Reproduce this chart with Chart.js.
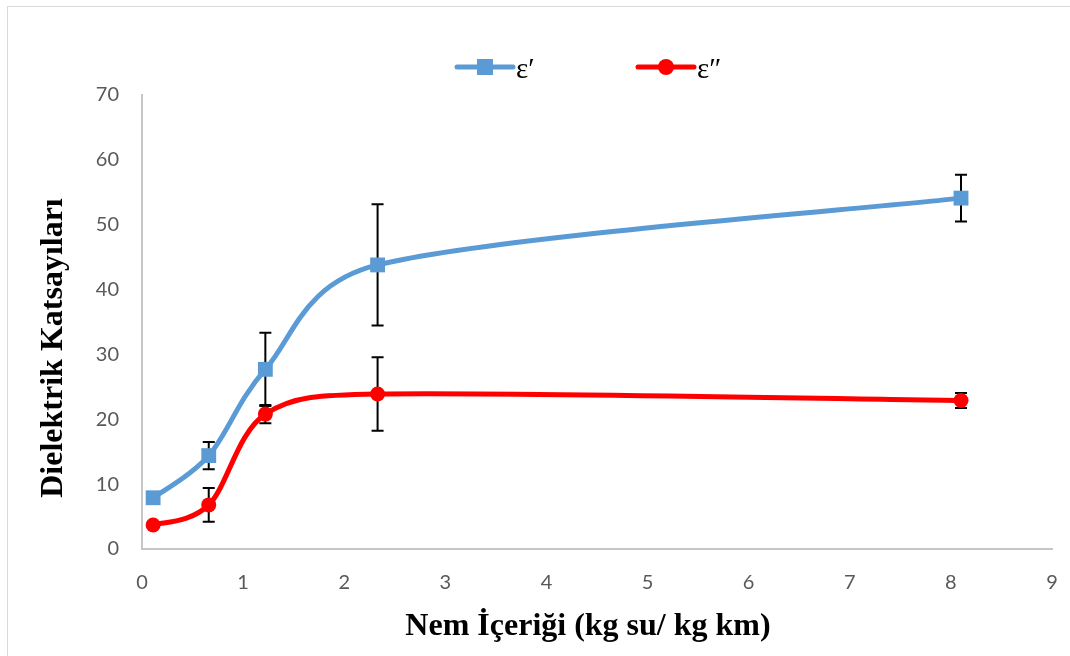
<!DOCTYPE html>
<html>
<head>
<meta charset="utf-8">
<script src="https://cdn.jsdelivr.net/npm/chart.js@4.4.1/dist/chart.umd.min.js"></script>
<style>
  body { margin: 0; background: #fff; overflow: hidden; }
  #frame { position: absolute; left: 7px; top: 6px; width: 1100px; height: 700px; border: 1px solid #d9d9d9; }
  #bars { position: absolute; left: 0; top: 0; }
</style>
</head>
<body>
<div id="frame"></div>
<canvas id="bars" width="1070" height="656"></canvas>
<script>
// nem icerigi (kg su / kg km)
var nem = [0.11, 0.66, 1.22, 2.33, 8.1];
// dielektrik sabiti e' ve kayip faktoru e''
var epsReal = [7.9, 14.4, 27.7, 43.8, 54.1];
var epsReal_err = [0, 2.1, 5.65, 9.35, 3.6];
var epsImag = [3.7, 6.8, 20.8, 23.9, 22.9];
var epsImag_err = [0, 2.6, 1.4, 5.65, 1.15];
var yTicks = [0, 10, 20, 30, 40, 50, 60, 70];
var xTicks = [0, 1, 2, 3, 4, 5, 6, 7, 8, 9];

function pts(xs, ys) {
  return xs.map((x, i) => ({ x: x, y: ys[i] }))
}

function dist(a, b) {
  return Math.hypot(b.x - a.x, b.y - a.y)
}

// excel style smoothing: arms are 1/6 of the neighbour chord, capped at half the segment
const excelSmooth = {
  id: 'excelSmooth',
  afterDatasetsUpdate(chart) {
    chart.data.datasets.forEach((ds, di) => {
      const meta = chart.getDatasetMeta(di)
      const p = meta.data
      const n = p.length
      for (let i = 0; i < n - 1; i++) {
        const p0 = p[Math.max(i - 1, 0)], p1 = p[i], p2 = p[i + 1], p3 = p[Math.min(i + 2, n - 1)]
        const d12 = dist(p1, p2), d02 = dist(p0, p2), d13 = dist(p1, p3)
        const a1 = Math.min(d02 / 6, d12 / 2), a2 = Math.min(d13 / 6, d12 / 2)
        p1.cp2x = p1.x + (p2.x - p0.x) / d02 * a1
        p1.cp2y = p1.y + (p2.y - p0.y) / d02 * a1
        p2.cp1x = p2.x - (p3.x - p1.x) / d13 * a2
        p2.cp1y = p2.y - (p3.y - p1.y) / d13 * a2
      }
      p[0].cp1x = p[0].x; p[0].cp1y = p[0].y
      p[n - 1].cp2x = p[n - 1].x; p[n - 1].cp2y = p[n - 1].y
      meta.dataset._pointsUpdated = true
    })
  }
}

// error bars, drawn under the lines like excel does
const errorBars = {
  id: 'errorBars',
  beforeDatasetsDraw(chart) {
    const ctx = chart.ctx
    const xs = chart.scales.x, ys = chart.scales.y
    ctx.save()
    ctx.strokeStyle = '#000'
    ctx.lineWidth = 2
    chart.data.datasets.forEach((ds) => {
      ds.data.forEach((p, i) => {
        const e = ds.err[i]
        if (!e) return
        const px = xs.getPixelForValue(p.x)
        const top = ys.getPixelForValue(p.y + e)
        const bot = ys.getPixelForValue(p.y - e)
        ctx.beginPath()
        ctx.moveTo(px, top); ctx.lineTo(px, bot)
        ctx.moveTo(px - 6, top); ctx.lineTo(px + 6, top)
        ctx.moveTo(px - 6, bot); ctx.lineTo(px + 6, bot)
        ctx.stroke()
      })
    })
    ctx.restore()
  }
}

// legend + axis titles
const extras = {
  id: 'extras',
  afterDraw(chart) {
    const ctx = chart.ctx
    const legendX = [457, 638]
    ctx.save()
    chart.data.datasets.forEach((ds, i) => {
      const x0 = legendX[i], y0 = 67
      ctx.strokeStyle = ds.borderColor
      ctx.lineWidth = 5
      ctx.lineCap = 'round'
      ctx.beginPath(); ctx.moveTo(x0, y0); ctx.lineTo(x0 + 56, y0); ctx.stroke()
      ctx.fillStyle = ds.borderColor
      if (ds.pointStyle === 'rect') {
        ctx.fillRect(x0 + 28 - 8, y0 - 8, 16, 16)
      } else {
        ctx.beginPath(); ctx.arc(x0 + 28, y0, 8, 0, Math.PI * 2); ctx.fill()
      }
      ctx.fillStyle = '#000'
      ctx.font = '29px "Liberation Serif"'
      ctx.textBaseline = 'middle'
      ctx.textAlign = 'left'
      ctx.fillText(ds.label, x0 + 59, y0 + 3)
    })
    ctx.fillStyle = '#000'
    ctx.font = 'bold 32px "Liberation Serif"'
    ctx.textAlign = 'center'
    ctx.textBaseline = 'alphabetic'
    ctx.fillText('Nem İçeriği (kg su/ kg km)', 588, 635)
    ctx.translate(62, 348)
    ctx.rotate(-Math.PI / 2)
    ctx.font = 'bold 32px "Liberation Serif"'
    ctx.fillText('Dielektrik Katsayıları', 0, 0)
    ctx.restore()
  }
}

const lineConfig = {
  type: 'line',
  data: {
    datasets: [
      {
        label: 'ε′',
        data: pts(nem, epsReal),
        err: epsReal_err,
        borderColor: '#5B9BD5',
        backgroundColor: '#5B9BD5',
        borderWidth: 5,
        tension: 0.4,
        pointStyle: 'rect',
        pointRadius: 10.5,
        pointBorderWidth: 0,
      },
      {
        label: 'ε″',
        data: pts(nem, epsImag),
        err: epsImag_err,
        borderColor: '#FF0000',
        backgroundColor: '#FF0000',
        borderWidth: 5,
        tension: 0.4,
        pointStyle: 'circle',
        pointRadius: 7.5,
        pointBorderWidth: 0,
      },
    ],
  },
  options: {
    responsive: false,
    animation: false,
    layout: { padding: { top: 95, right: 18, left: 0, bottom: 0 } },
    plugins: {
      legend: { display: false },
      tooltip: { enabled: false },
    },
    scales: {
      x: {
        type: 'linear',
        min: 0,
        max: 9,
        afterBuildTicks: (s) => { s.ticks = xTicks.map((v) => ({ value: v })) },
        afterFit: (s) => { s.height = 107; s.paddingLeft = 0; s.paddingRight = 0 },
        grid: { display: false, drawTicks: false },
        border: { color: '#c6c6c6', width: 2 },
        ticks: { color: '#595959', font: { family: 'Lato', size: 20 }, padding: 22 },
      },
      y: {
        min: 0,
        max: 70,
        afterBuildTicks: (s) => { s.ticks = yTicks.map((v) => ({ value: v })) },
        afterFit: (s) => { s.width = 142 },
        grid: { display: false, drawTicks: false },
        border: { color: '#c6c6c6', width: 2 },
        ticks: { color: '#595959', font: { family: 'Lato', size: 20 }, padding: 23 },
      },
    },
  },
  plugins: [excelSmooth, errorBars, extras],
}

const lineCtx = document.getElementById('bars')
window.myLine = new Chart(lineCtx, lineConfig)
</script>
</body>
</html>
